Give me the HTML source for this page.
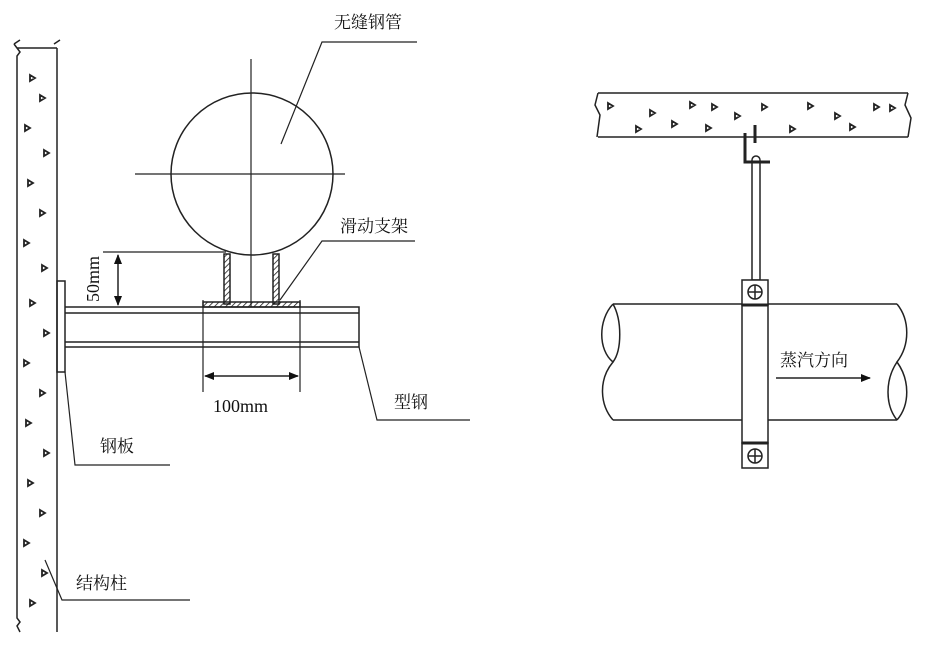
<!DOCTYPE html>
<html><head><meta charset="utf-8"><style>
html,body{margin:0;padding:0;background:#fff;}
svg text{font-family:"Liberation Serif","Noto Serif CJK SC",serif;fill:#111;}
</style></head><body>
<svg width="949" height="640" viewBox="0 0 949 640" xmlns="http://www.w3.org/2000/svg">
<defs>
<marker id="a" markerWidth="10" markerHeight="10" refX="9" refY="5" orient="auto-start-reverse" markerUnits="userSpaceOnUse"><path d="M0,1 L10,5 L0,9 Z" fill="#111"/></marker>
<pattern id="h" width="4" height="4" patternUnits="userSpaceOnUse" patternTransform="rotate(45)"><line x1="0" y1="0" x2="0" y2="4" stroke="#111" stroke-width="1.5"/></pattern>
</defs>
<g stroke="#222" stroke-width="1.5" fill="none">
<path d="M17,48 L57,48 M17,48 L14,44 M17,48 L20,52 L17,56 L17,618 L20,622 L17,626 L20,632 M57,48 L57,632"/>
<path d="M14,44 L20,40 M54,44 L60,40"/>
<rect x="57" y="281" width="8" height="91"/>
<path d="M65,307 L359,307 L359,347 L65,347 M65,313 L359,313 M65,342 L359,342"/>
<circle cx="252" cy="174" r="81"/>
<path d="M251,59 L251,307 M135,174 L345,174" stroke-width="1.2"/>
<rect x="224" y="254" width="6" height="50" fill="url(#h)"/>
<rect x="273" y="254" width="6" height="50" fill="url(#h)"/>
<rect x="203" y="302" width="97" height="5" fill="url(#h)"/>
<path d="M103,252 L226,252" stroke-width="1.2"/>
<path d="M118,255 L118,305" marker-start="url(#a)" marker-end="url(#a)"/>
<path d="M203,300 L203,392 M300,300 L300,392" stroke-width="1.2"/>
<path d="M205,376 L298,376" marker-start="url(#a)" marker-end="url(#a)"/>
<path d="M281,144 L322,42 L417,42" stroke-width="1.2"/>
<path d="M280,300 L322,241 L415,241" stroke-width="1.2"/>
<path d="M359,347 L377,420 L470,420" stroke-width="1.2"/>
<path d="M65,372 L75,465 L170,465" stroke-width="1.2"/>
<path d="M45,560 L62,600 L190,600" stroke-width="1.2"/>
<path d="M598,93 L908,93 M598,137 L908,137 M598,93 L595,105 L600,115 L597,137 M908,93 L905,105 L911,118 L908,137"/>
<path d="M745,133 L745,162 L770,162" stroke-width="3"/>
<path d="M755,125 L755,143" stroke-width="3"/>
<path d="M752,162 L752,160 A4,4 0 0 1 760,160 L760,162"/>
<rect x="752" y="162" width="8" height="118"/>
<path d="M613,304 L897,304 M613,420 L897,420"/>
<path d="M613,304 C598,320 598,350 613,362 C598,380 600,405 613,420"/>
<path d="M613,304 C622,320 622,350 613,362"/>
<path d="M897,304 C910,320 910,345 897,362 C910,380 910,405 897,420"/>
<path d="M897,362 C885,380 885,405 897,420"/>
<rect x="742" y="280" width="26" height="25" fill="#fff"/>
<rect x="742" y="305" width="26" height="138" fill="#fff"/>
<rect x="742" y="443" width="26" height="25" fill="#fff"/>
<path d="M742,305 L768,305 M742,443 L768,443" stroke-width="3"/>
<circle cx="755" cy="292" r="7"/><path d="M748,292 L762,292 M755,285 L755,299"/>
<circle cx="755" cy="456" r="7"/><path d="M748,456 L762,456 M755,449 L755,463"/>
<path d="M776,378 L870,378" marker-end="url(#a)"/>
</g>
<g fill="none" stroke="#222" stroke-width="1.8">
<path d="M30,75l5,3l-5,3z M40,95l5,3l-5,3z M25,125l5,3l-5,3z M44,150l5,3l-5,3z M28,180l5,3l-5,3z M40,210l5,3l-5,3z M24,240l5,3l-5,3z M42,265l5,3l-5,3z M30,300l5,3l-5,3z M44,330l5,3l-5,3z M24,360l5,3l-5,3z M40,390l5,3l-5,3z M26,420l5,3l-5,3z M44,450l5,3l-5,3z M28,480l5,3l-5,3z M40,510l5,3l-5,3z M24,540l5,3l-5,3z M42,570l5,3l-5,3z M30,600l5,3l-5,3z"/>
<path d="M608,103l5,3l-5,3z M650,110l5,3l-5,3z M690,102l5,3l-5,3z M712,104l5,3l-5,3z M735,113l5,3l-5,3z M762,104l5,3l-5,3z M808,103l5,3l-5,3z M835,113l5,3l-5,3z M874,104l5,3l-5,3z M890,105l5,3l-5,3z M636,126l5,3l-5,3z M672,121l5,3l-5,3z M706,125l5,3l-5,3z M790,126l5,3l-5,3z M850,124l5,3l-5,3z"/>
</g>
<g font-size="17">
<text x="334" y="28">无缝钢管</text>
<text x="340" y="232">滑动支架</text>
<text x="394" y="408">型钢</text>
<text x="100" y="452">钢板</text>
<text x="76" y="589">结构柱</text>
<text x="780" y="366">蒸汽方向</text>
<text x="213" y="412" font-size="18">100mm</text>
<text transform="translate(99,302) rotate(-90)" font-size="18">50mm</text>
</g>
</svg>
</body></html>
